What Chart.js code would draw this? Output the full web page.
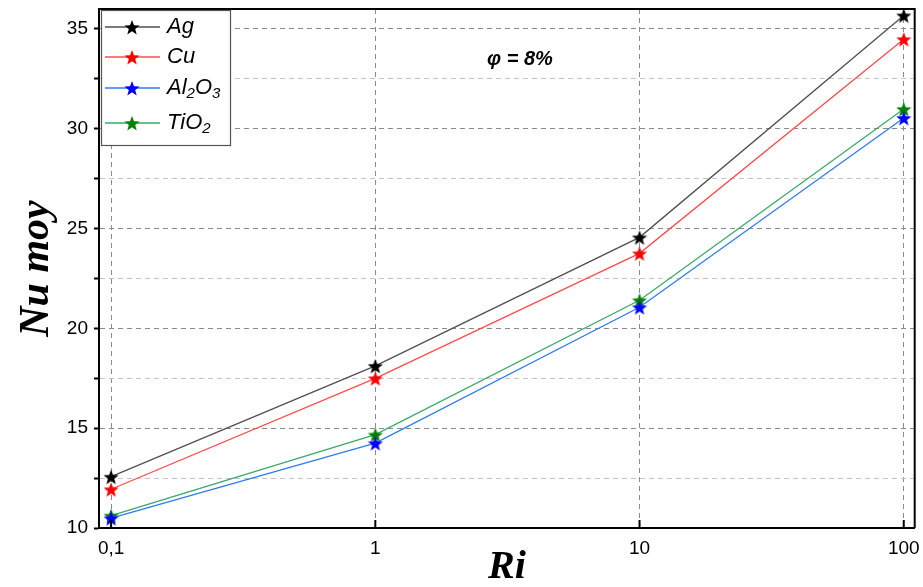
<!DOCTYPE html>
<html>
<head>
<meta charset="utf-8">
<script src="https://cdn.jsdelivr.net/npm/chart.js@4/dist/chart.umd.min.js"></script>
<style>
  body { margin: 0; background: #fff; }
  canvas { display: block; }
</style>
</head>
<body>
<canvas id="nuChart" width="923" height="587"></canvas>
<script>
// Richardson numbers and average Nusselt numbers, phi = 8%
const riValues = [0.1, 1, 10, 100];
const agNu = [12.57, 18.12, 24.56, 35.68];
const cuNu = [11.94, 17.5, 23.76, 34.49];
const al2o3Nu = [10.49, 14.25, 21.06, 30.54];
const tio2Nu = [10.62, 14.68, 21.41, 30.99];
const xTicks = [0.1, 1, 10, 100];
const seriesNames = ['Ag', 'Cu', 'Al_2O_3', 'TiO_2'];

const lineColors = ['#505050', '#ff4d4d', '#2f7cf0', '#3aaa6a'];
const starColors = ['#000000', '#ff0000', '#0000ff', '#008000'];

// filled five point star used as point marker
function makeStar(color, r) {
  const c = document.createElement('canvas');
  const s = Math.ceil(r * 2 + 2);
  c.width = s; c.height = s;
  const g = c.getContext('2d');
  g.beginPath();
  for (let i = 0; i < 10; i++) {
    const rad = i % 2 === 0 ? r : r * 0.42;
    const a = -Math.PI / 2 + i * Math.PI / 5;
    const px = s / 2 + rad * Math.cos(a);
    const py = s / 2 + 1 + rad * Math.sin(a);
    if (i === 0) g.moveTo(px, py); else g.lineTo(px, py);
  }
  g.closePath();
  g.fillStyle = color;
  g.fill();
  return c;
}

const stars = starColors.map(c => makeStar(c, 8));
const allSeries = [agNu, cuNu, al2o3Nu, tio2Nu];

const datasets = allSeries.map((vals, i) => ({
  label: seriesNames[i],
  data: riValues.map((x, j) => ({ x: x, y: vals[j] })),
  borderColor: lineColors[i],
  backgroundColor: starColors[i],
  borderWidth: 1.3,
  pointStyle: stars[i],
  pointRadius: 7,
  tension: 0
}));

// text with _x subscripts
function drawSubText(g, text, x, y, size) {
  const parts = text.split(/(_\d)/);
  let cx = x;
  parts.forEach(p => {
    if (!p) return;
    if (p[0] === '_') {
      g.font = 'italic ' + Math.round(size * 0.7) + 'px Arial, "Liberation Sans"';
      g.fillText(p[1], cx, y + size * 0.28);
      cx += g.measureText(p[1]).width;
    } else {
      g.font = 'italic ' + size + 'px Arial, "Liberation Sans"';
      g.fillText(p, cx, y);
      cx += g.measureText(p).width;
    }
  });
}

const framePlugin = {
  id: 'frame',
  afterDraw(chart) {
    const g = chart.ctx;
    const a = chart.chartArea;
    g.save();
    // top and right frame
    g.strokeStyle = '#000';
    g.lineWidth = 2;
    g.beginPath();
    g.moveTo(a.left, a.top);
    g.lineTo(a.right, a.top);
    g.lineTo(a.right, a.bottom);
    g.stroke();
    // inward x ticks
    const xs = chart.scales.x;
    xTicks.forEach(v => {
      const px = xs.getPixelForValue(v);
      g.beginPath();
      g.moveTo(px, a.bottom);
      g.lineTo(px, a.bottom - 8);
      g.stroke();
    });

    // legend box
    const bx = 101, by = 10, bw = 129, bh = 135;
    g.fillStyle = '#fff';
    g.fillRect(bx, by, bw, bh);
    g.strokeStyle = '#555';
    g.lineWidth = 1.2;
    g.strokeRect(bx + 0.5, by + 0.5, bw, bh);
    const rows = [27, 57, 88, 123];
    g.textBaseline = 'middle';
    chart.data.datasets.forEach((ds, i) => {
      const ry = rows[i];
      g.strokeStyle = ds.borderColor;
      g.lineWidth = 1.3;
      g.beginPath();
      g.moveTo(105, ry);
      g.lineTo(160, ry);
      g.stroke();
      const st = stars[i];
      g.drawImage(st, 132 - st.width / 2, ry - st.height / 2);
      g.fillStyle = '#000';
      drawSubText(g, ds.label, 167, ry, 22);
    });

    // volume fraction note
    g.font = 'bold italic 20px Arial, "Liberation Sans"';
    g.textAlign = 'center';
    g.fillText('\u03c6 = 8%', 520, 59);
    g.restore();
  }
};

new Chart(document.getElementById('nuChart'), {
  type: 'line',
  data: { datasets: datasets },
  options: {
    responsive: false,
    animation: false,
    layout: { padding: { left: 0, right: 8, top: 9, bottom: 0 } },
    plugins: {
      legend: { display: false },
      tooltip: { enabled: false }
    },
    scales: {
      x: {
        type: 'logarithmic',
        min: 0.09,
        max: 110,
        afterBuildTicks(scale) {
          scale.ticks = xTicks.map(v => ({ value: v }));
        },
        afterFit(scale) {
          scale.height = 59;
          scale.paddingLeft = 0;
          scale.paddingRight = 0;
        },
        ticks: {
          color: '#000',
          padding: 9,
          autoSkip: false,
          maxRotation: 0,
          font: { family: 'Arial, "Liberation Sans"', size: 19 },
          callback: v => String(v).replace('.', ',')
        },
        grid: { color: '#8a8a8a', lineWidth: 1, drawTicks: false },
        border: { display: true, color: '#000', width: 2, dash: [5, 4] },
        title: {
          display: true,
          text: 'Ri',
          color: '#000',
          padding: { top: 0, bottom: -1 },
          font: { family: '"Times New Roman", "Liberation Serif", serif', size: 40, style: 'italic', weight: 'bold', lineHeight: 1 }
        }
      },
      y: {
        min: 10,
        max: 36,
        afterBuildTicks(scale) {
          const t = [];
          for (let v = 10; v <= 35; v += 2.5) t.push({ value: v });
          scale.ticks = t;
        },
        afterFit(scale) {
          scale.width = 99;
          scale.paddingTop = 0;
          scale.paddingBottom = 0;
        },
        ticks: {
          color: '#000',
          padding: 6,
          font: { family: 'Arial, "Liberation Sans"', size: 19 },
          callback: v => (v % 5 === 0 ? v : '')
        },
        grid: {
          color: c => (c.tick && c.tick.value % 5 === 0 ? '#8a8a8a' : '#c4c4c4'),
          lineWidth: 1,
          tickLength: 5,
          tickColor: '#000',
          tickWidth: 2
        },
        border: { display: true, color: '#000', width: 2, dash: [5, 4] },
        title: {
          display: true,
          text: 'Nu moy',
          color: '#000',
          padding: { top: 12, bottom: 0 },
          font: { family: '"Times New Roman", "Liberation Serif", serif', size: 42, style: 'italic', weight: 'bold', lineHeight: 1.2 }
        }
      }
    }
  },
  plugins: [framePlugin]
});
</script>
</body>
</html>
